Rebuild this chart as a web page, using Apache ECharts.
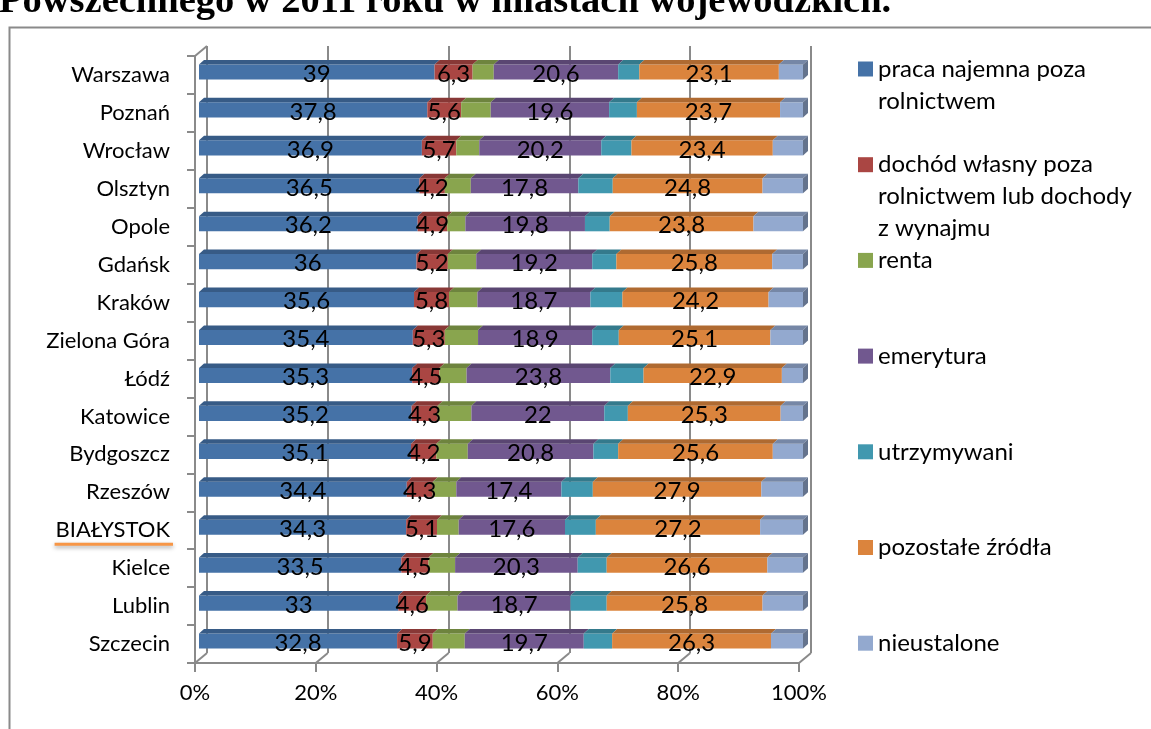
<!DOCTYPE html>
<html>
<head>
<meta charset="utf-8">
<script src="https://cdn.jsdelivr.net/npm/echarts@6/dist/echarts.min.js"></script>
<style>
  html, body { margin: 0; padding: 0; background: #ffffff; overflow: hidden; }
  #chart { width: 1151px; height: 729px; }
</style>
</head>
<body>
<div id="chart"></div>
<script>
// Cities (top to bottom)
const categories = ['Warszawa', 'Poznań', 'Wrocław', 'Olsztyn', 'Opole', 'Gdańsk', 'Kraków', 'Zielona Góra',
  'Łódź', 'Katowice', 'Bydgoszcz', 'Rzeszów', 'BIAŁYSTOK', 'Kielce', 'Lublin', 'Szczecin'];

// Share of each main source of income, %
const praca       = [39, 37.8, 36.9, 36.5, 36.2, 36, 35.6, 35.4, 35.3, 35.2, 35.1, 34.4, 34.3, 33.5, 33, 32.8];
const dochod      = [6.3, 5.6, 5.7, 4.2, 4.9, 5.2, 5.8, 5.3, 4.5, 4.3, 4.2, 4.3, 5.1, 4.5, 4.6, 5.9];
const renta       = [3.5, 4.9, 3.8, 4.3, 3.0, 4.7, 4.7, 5.5, 4.5, 5.6, 5.2, 3.9, 3.6, 4.4, 5.2, 5.3];
const emerytura   = [20.6, 19.6, 20.2, 17.8, 19.8, 19.2, 18.7, 18.9, 23.8, 22, 20.8, 17.4, 17.6, 20.3, 18.7, 19.7];
const utrzymywani = [3.5, 4.6, 5.0, 5.7, 4.1, 4.0, 5.3, 4.4, 5.5, 3.9, 4.1, 5.2, 5.1, 4.8, 6.0, 4.7];
const pozostale   = [23.1, 23.7, 23.4, 24.8, 23.8, 25.8, 24.2, 25.1, 22.9, 25.3, 25.6, 27.9, 27.2, 26.6, 25.8, 26.3];
const nieustalone = [4.0, 3.8, 5.0, 6.7, 8.2, 5.1, 5.7, 5.4, 3.5, 3.7, 5.0, 6.9, 7.1, 5.9, 6.7, 5.3];

const seriesNames = ['praca najemna poza rolnictwem',
  'dochód własny poza rolnictwem lub dochody z wynajmu',
  'renta', 'emerytura', 'utrzymywani', 'pozostałe źródła', 'nieustalone'];
const legendLines = [
  ['praca najemna poza', 'rolnictwem'],
  ['dochód własny poza', 'rolnictwem lub dochody', 'z wynajmu'],
  ['renta'], ['emerytura'], ['utrzymywani'], ['pozostałe źródła'], ['nieustalone']
];
const tickValues = [0, 20, 40, 60, 80, 100];
const titleText = 'Powszechnego w 2011 roku w miastach wojewódzkich.';

const valueSets = [praca, dochod, renta, emerytura, utrzymywani, pozostale, nieustalone];
const showValue = [true, true, false, true, false, true, false];
const seriesColors = ['#4572A7', '#AA4643', '#89A54E', '#71588F', '#4198AF', '#DB843D', '#93A9CF'];

const FONT = 'Lato';
const AXIS_FS = 22, LEGEND_FS = 24, VALUE_FS = 24;
const GREY = '#8a8a8a';
const FRONT = { left: 195, top: 56, width: 604, height: 607 };   // front plane of the 3-D box
const BACK_DX = 12, BACK_DY = -10;                              // offset of the back wall
const BAR_DX = 4, BAR_DY = -3;                                  // bar front face inside the box
const DEPTH_X = 5, DEPTH_Y = 4.5;                               // bar thickness
const CAT_MARGIN = 25;

function shade(hex, f) {
  const n = parseInt(hex.slice(1), 16);
  const r = Math.round(((n >> 16) & 255) * f);
  const g = Math.round(((n >> 8) & 255) * f);
  const b = Math.round((n & 255) * f);
  return 'rgb(' + r + ',' + g + ',' + b + ')';
}
const fmtValue = v => String(v).replace('.', ',');

// Stack every row to 100 %
const segments = valueSets.map(() => []);
categories.forEach((c, ci) => {
  const total = valueSets.reduce((s, arr) => s + arr[ci], 0);
  let acc = 0;
  valueSets.forEach((arr, si) => {
    const start = acc / total * 100;
    acc += arr[ci];
    segments[si].push([ci, start, acc / total * 100, arr[ci]]);
  });
});

function barRenderer(si) {
  const front = seriesColors[si];
  const top = shade(front, 0.8);
  const side = shade(front, 0.68);
  const isLast = si === valueSets.length - 1;
  return function (params, api) {
    const ci = api.value(0);
    const a = api.coord([api.value(1), ci]);
    const b = api.coord([api.value(2), ci]);
    const h = api.size([0, 1])[1] * 0.4;
    const x0 = a[0] + BAR_DX, x1 = b[0] + BAR_DX;
    const y0 = a[1] + BAR_DY - h / 2;
    const children = [
      { type: 'rect', shape: { x: x0, y: y0, width: x1 - x0, height: h }, style: { fill: front } },
      { type: 'polygon', shape: { points: [[x0, y0], [x1, y0], [x1 + DEPTH_X, y0 - DEPTH_Y], [x0 + DEPTH_X, y0 - DEPTH_Y]] },
        style: { fill: top } }
    ];
    if (isLast) {
      children.push({ type: 'polygon',
        shape: { points: [[x1, y0], [x1 + DEPTH_X, y0 - DEPTH_Y], [x1 + DEPTH_X, y0 - DEPTH_Y + h], [x1, y0 + h]] },
        style: { fill: side } });
    }
    if (showValue[si]) {
      children.push({ type: 'text', z2: 100, silent: true,
        style: { text: fmtValue(api.value(3)), x: (x0 + x1) / 2, y: y0 + h / 2 + 2,
          align: 'center', verticalAlign: 'middle', fill: '#000', font: VALUE_FS + 'px ' + FONT } });
    }
    return { type: 'group', children: children };
  };
}

const barSeries = seriesNames.map((name, si) => ({
  name: name,
  type: 'custom',
  xAxisIndex: 0, yAxisIndex: 0,
  color: seriesColors[si],
  itemStyle: { color: seriesColors[si] },
  encode: { x: [1, 2], y: 0 },
  data: segments[si],
  renderItem: barRenderer(si),
  z: 3
}));

// Floor edges joining front axis to back wall
const floorSeries = {
  type: 'custom', silent: true, xAxisIndex: 0, yAxisIndex: 0, z: 2,
  data: tickValues.map(v => [v, 0]),
  renderItem: function (params, api) {
    const x = api.coord([api.value(0), 0])[0];
    const cs = params.coordSys;
    const yb = cs.y + cs.height;
    const st = { stroke: GREY, lineWidth: 2 };
    const children = [{ type: 'line', shape: { x1: x, y1: yb, x2: x + BACK_DX, y2: yb + BACK_DY }, style: st }];
    if (params.dataIndex === 0) {
      children.push({ type: 'line', shape: { x1: x, y1: cs.y, x2: x + BACK_DX, y2: cs.y + BACK_DY }, style: st });
    }
    return { type: 'group', children: children };
  }
};

const LEG_LH = 32, LEG_FIRST = 69, LEG_STEP = 95.7;
const legends = seriesNames.map((name, i) => {
  const n = legendLines[i].length;
  return {
    data: [name],
    orient: 'vertical',
    left: 858,
    top: LEG_FIRST + i * LEG_STEP - (2 * n - 1) * LEG_LH / 2,
    padding: 0,
    itemWidth: 15, itemHeight: 15,
    icon: 'rect',
    selectedMode: false,
    formatter: () => '\n'.repeat(n - 1) + legendLines[i].join('\n'),
    textStyle: { fontFamily: FONT, fontSize: LEGEND_FS, color: '#000', lineHeight: LEG_LH }
  };
});

const frameGraphic = { type: 'rect', silent: true, shape: { x: 9.5, y: 27.5, width: 1300, height: 900 },
  style: { fill: null, stroke: GREY, lineWidth: 2 } };

const chart = echarts.init(document.getElementById('chart'), null, { renderer: 'canvas' });

chart.setOption({
  animation: false,
  backgroundColor: '#ffffff',
  title: {
    text: titleText, left: -1, top: -17, padding: 0,
    textStyle: { fontFamily: 'Liberation Serif', fontWeight: 'bold', fontSize: 38.5, lineHeight: 38, color: '#000' }
  },
  legend: legends,
  grid: [
    { left: FRONT.left, top: FRONT.top, width: FRONT.width, height: FRONT.height },
    { left: FRONT.left + BACK_DX, top: FRONT.top + BACK_DY, width: FRONT.width, height: FRONT.height }
  ],
  xAxis: [
    {
      gridIndex: 0, type: 'value', min: 0, max: 100, interval: 20,
      axisLine: { show: true, lineStyle: { color: GREY, width: 2 } },
      axisTick: { show: true, length: 9, lineStyle: { color: GREY, width: 2 } },
      axisLabel: { formatter: '{value}%', fontFamily: FONT, fontSize: AXIS_FS, color: '#000', margin: 19 },
      splitLine: { show: false }
    },
    {
      gridIndex: 1, type: 'value', min: 0, max: 100, interval: 20,
      axisLine: { show: false }, axisTick: { show: false }, axisLabel: { show: false },
      splitLine: { show: true, lineStyle: { color: GREY, width: 2 } }
    }
  ],
  yAxis: [
    {
      gridIndex: 0, type: 'category', inverse: true, data: categories,
      axisLine: { show: true, lineStyle: { color: GREY, width: 2 } },
      axisTick: { show: true, length: 8, lineStyle: { color: GREY, width: 2 } },
      axisLabel: { fontFamily: FONT, fontSize: AXIS_FS, color: '#000', margin: CAT_MARGIN, padding: [4, 0, 0, 0] },
      splitLine: { show: false }
    },
    { gridIndex: 1, type: 'category', inverse: true, data: categories, show: false }
  ],
  graphic: [frameGraphic],
  series: [floorSeries].concat(barSeries)
});

// Orange underline beneath the highlighted city label
(function () {
  const city = 'BIAŁYSTOK';
  const yc = chart.convertToPixel({ yAxisIndex: 0 }, categories.indexOf(city));
  const ctx = document.createElement('canvas').getContext('2d');
  ctx.font = AXIS_FS + 'px ' + FONT;
  const w = ctx.measureText(city).width;
  const right = FRONT.left - CAT_MARGIN;
  chart.setOption({
    graphic: [
      frameGraphic,
      { type: 'line', silent: true, shape: { x1: right - w - 1, y1: yc + 14, x2: right + 3, y2: yc + 14 },
        style: { stroke: '#F79646', lineWidth: 3, shadowBlur: 4, shadowOffsetY: 2, shadowColor: 'rgba(0,0,0,0.35)' } }
    ]
  });
})();
</script>
</body>
</html>
